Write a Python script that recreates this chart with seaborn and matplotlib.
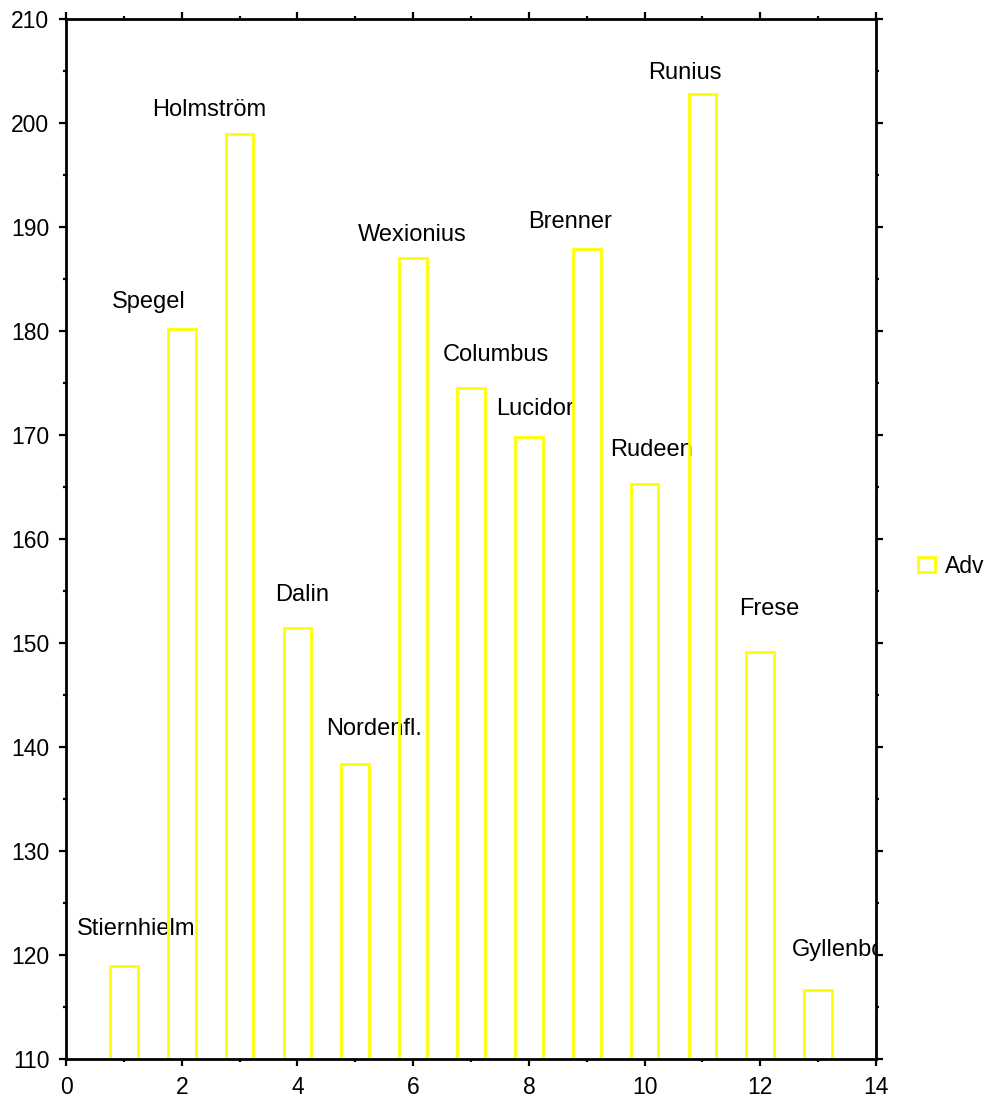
import numpy as np
import pandas as pd
import seaborn as sns
import matplotlib.pyplot as plt

# Data
names = ['Stiernhielm', 'Spegel', 'Holmström', 'Dalin', 'Nordenfl.', 'Wexionius',
         'Columbus', 'Lucidor', 'Brenner', 'Rudeen', 'Runius', 'Frese', 'Gyllenborg']
positions = [1, 2, 3, 4, 5, 6, 7, 8, 9, 10, 11, 12, 13]
adv = [118.9, 180.2, 198.9, 151.4, 138.4, 187.05, 174.5, 169.8, 187.85, 165.3, 202.8, 149.1, 116.6]

# label placement (left edge x, vertical centre y) as in the original
label_x = [0.185, 0.79, 1.49, 3.61, 4.49, 5.04, 6.52, 7.43, 7.99, 9.41, 10.06, 11.63, 12.54]
label_y = [122.5, 182.8, 201.25, 154.6, 141.7, 189.2, 177.7, 172.5, 190.45, 168.6, 204.8, 153.3, 120.5]

df = pd.DataFrame({'pos': positions, 'Adv': adv, 'name': names})

sns.set_style('white')
plt.rcParams['font.family'] = ['Liberation Sans', 'DejaVu Sans']
fs = 16.5

fig = plt.figure(figsize=(9.91, 10.99), dpi=100)
ax = fig.add_axes([0.0666, 0.0364, 0.8174, 0.9463])

sns.barplot(data=df, x='pos', y='Adv', native_scale=True, fill=False,
            color='#FFFF00', width=0.48, linewidth=2.0, label='Adv', ax=ax,
            zorder=2)

for nm, lx, ly in zip(names, label_x, label_y):
    ax.text(lx, ly, nm, ha='left', va='center', fontsize=17, color='black',
            zorder=1, clip_on=True)

ax.set_xlim(0, 14)
ax.set_ylim(110, 210)
ax.set_xticks(np.arange(0, 15, 2))
ax.set_xticks(np.arange(1, 14, 2), minor=True)
ax.set_yticks(np.arange(110, 211, 10))
ax.set_yticks(np.arange(115, 210, 10), minor=True)
ax.set_xlabel('')
ax.set_ylabel('')

for sp in ax.spines.values():
    sp.set_visible(True)
    sp.set_color('black')
    sp.set_linewidth(2.0)
    sp.set_zorder(3)

ax.tick_params(which='both', direction='out', top=True, right=True,
               bottom=True, left=True, color='black', width=1.6,
               labelsize=fs, labelcolor='black')
ax.tick_params(axis='y', pad=7)
ax.tick_params(axis='x', pad=7)
ax.tick_params(which='major', length=5)
ax.tick_params(which='minor', length=2.5)

leg = ax.legend(loc='center left', bbox_to_anchor=(1.04, 0.474), frameon=False,
                fontsize=fs, handlelength=0.75, handleheight=0.65,
                handletextpad=0.45, borderaxespad=0)
for t in leg.get_texts():
    t.set_color('black')

fig.savefig('out.png', dpi=100)
